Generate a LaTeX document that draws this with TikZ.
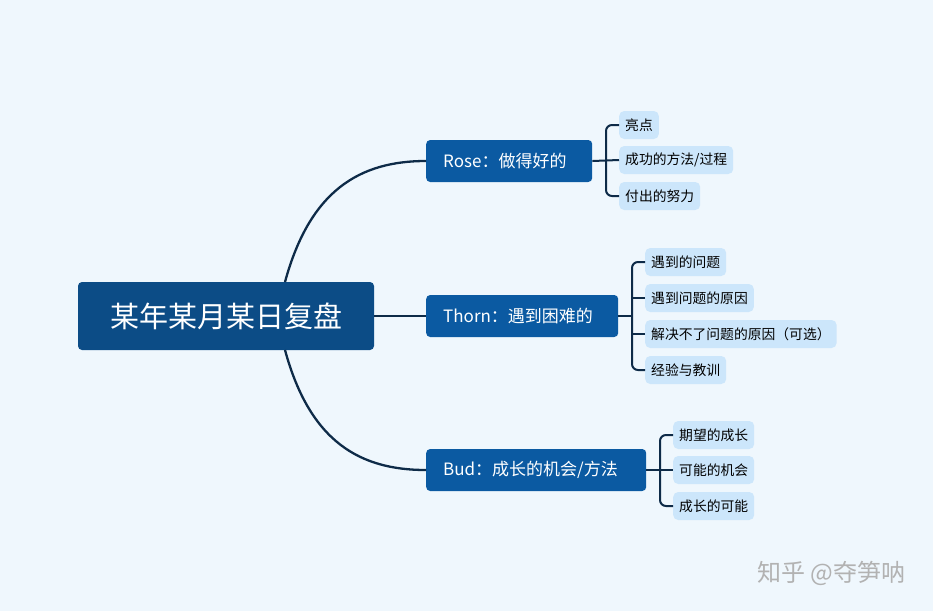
\documentclass[tikz,border=0pt]{standalone}
\usepackage{fontspec}
\setmainfont{Noto Sans CJK SC}
\begin{document}
\begin{tikzpicture}[x=1pt,y=-1pt,
  root/.style={fill=rootc,rounded corners=4,text=white,font=\fontsize{29}{33}\selectfont,minimum width=296,minimum height=68},
  mid/.style={fill=midc,rounded corners=4,text=white,font=\fontsize{17}{20}\selectfont,minimum height=42,inner xsep=17,align=left,anchor=west},
  leaf/.style={fill=leafc,rounded corners=5,font=\fontsize{13.8}{16}\selectfont,minimum height=28,inner xsep=6,anchor=west},
  con/.style={draw=linec,line width=2.3},
  br/.style={draw=linec,line width=2,rounded corners=6}]
\definecolor{bgc}{HTML}{EFF7FD}
\definecolor{rootc}{HTML}{0C4C86}
\definecolor{midc}{HTML}{0B5AA2}
\definecolor{leafc}{HTML}{CCE6FB}
\definecolor{linec}{HTML}{0E2B48}
\fill[bgc] (0,0) rectangle (933,611);
\useasboundingbox (0,0) rectangle (933,611);
\node[root] (root) at (226,316) {某年某月某日复盘};
\node[mid,text width=132] (rose) at (426,161) {Rose：做得好的};
\node[mid,text width=158] (thorn) at (426,316) {Thorn：遇到困难的};
\node[mid,text width=186] (bud) at (426,470) {Bud：成长的机会/方法};
\draw[con] (285,282) coordinate (a) .. controls (310,190) and (360,161) .. (rose.west);
\draw[con] (root.east) -- (thorn.west);
\draw[con] (285,350) coordinate (b) .. controls (310,442) and (360,470) .. (bud.west);
\node[leaf] (r1) at (619,125) {亮点};
\node[leaf] (r2) at (619,160) {成功的方法/过程};
\node[leaf] (r3) at (619,196) {付出的努力};
\draw[br] (r1.west) -- ++(-13,0) |- (r3.west);
\draw[con,line width=2] (rose.east) -- (r2.west);
\node[leaf] (t1) at (645,262) {遇到的问题};
\node[leaf] (t2) at (645,298) {遇到问题的原因};
\node[leaf] (t3) at (645,334) {解决不了问题的原因（可选）};
\node[leaf] (t4) at (645,370) {经验与教训};
\draw[br] (t1.west) -- ++(-13,0) |- (t4.west);
\draw[br] (t2.west) -- ++(-13,0);
\draw[br] (t3.west) -- ++(-13,0);
\draw[con,line width=2] (thorn.east) -- ++(14,0);
\node[leaf] (b1) at (673,435) {期望的成长};
\node[leaf] (b2) at (673,470) {可能的机会};
\node[leaf] (b3) at (673,506) {成长的可能};
\draw[br] (b1.west) -- ++(-13,0) |- (b3.west);
\draw[con,line width=2] (bud.east) -- (b2.west);
\node[text=gray!60,font=\fontsize{24}{27}\selectfont,anchor=east] (wm) at (909,573) {知乎 @夺笋呐};
\end{tikzpicture}
\end{document}
